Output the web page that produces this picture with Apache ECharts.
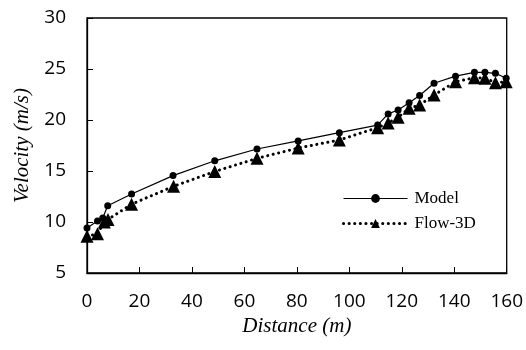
<!DOCTYPE html>
<html><head><meta charset="utf-8">
<script src="https://cdn.jsdelivr.net/npm/echarts@6/dist/echarts.min.js"></script>
<style>html,body{margin:0;padding:0;background:#fff}#c{width:526px;height:350px}</style>
</head><body><div id="c"></div>
<script>
var modelDist = [0, 4, 6, 7.9, 17, 32.8, 48.7, 64.8, 80.5, 96.2, 110.8, 114.8, 118.6, 122.8, 126.8, 132.3, 140.5, 147.7, 151.7, 155.7, 159.8];
var modelVel  = [9.4, 10.1, 10.4, 11.6, 12.75, 14.55, 16.0, 17.16, 17.95, 18.76, 19.5, 20.6, 20.98, 21.7, 22.4, 23.6, 24.3, 24.67, 24.67, 24.58, 24.1];
var flowDist = [0, 4, 6.6, 8, 17, 33, 48.7, 64.8, 80.5, 96.2, 110.8, 114.8, 118.6, 122.8, 126.8, 132.3, 140.5, 147.7, 151.7, 155.7, 159.8];
var flowVel  = [8.6, 8.85, 10.0, 10.25, 11.75, 13.5, 14.95, 16.24, 17.25, 18.04, 19.25, 19.7, 20.26, 21.15, 21.47, 22.45, 23.75, 24.15, 24.1, 23.66, 23.75];
var xTicks = [0, 20, 40, 60, 80, 100, 120, 140, 160];
var yTicks = [5, 10, 15, 20, 25, 30];

function pairs(xs, ys){ return xs.map(function(x,i){ return [x, ys[i]]; }); }
var chart = echarts.init(document.getElementById('c'));
var tickFont = {fontFamily: 'Open Sans', fontSize: 19, color: '#000'};
var dotted = {color: '#000', width: 3, type: [0.1, 5.5], cap: 'round'};
chart.setOption({
  animation: false,
  grid: {left: 87, right: 18, top: 18, bottom: 77, show: true, borderColor: '#000', borderWidth: 1.3},
  legend: {
    orient: 'vertical', left: 337, top: 185, itemWidth: 64, itemHeight: 11, itemGap: 8, itemStyle: {},
    textStyle: {fontFamily: 'Liberation Serif', fontSize: 17, color: '#000', padding: [0, 0, 0, 2]},
    data: [{name: 'Model', lineStyle: {color: '#000', width: 1.2}},
           {name: 'Flow-3D', lineStyle: dotted}]
  },
  xAxis: {
    type: 'value', min: xTicks[0], max: xTicks[xTicks.length-1], interval: 20,
    name: 'Distance (m)', nameLocation: 'middle', nameGap: 37,
    nameTextStyle: {fontFamily: 'Liberation Serif', fontStyle: 'italic', fontSize: 21, color: '#000'},
    axisLine: {lineStyle: {color: '#000', width: 1.3}},
    axisTick: {inside: true, length: 6, lineStyle: {color: '#000', width: 1}},
    axisLabel: Object.assign({margin: 19}, tickFont),
    splitLine: {show: false}
  },
  yAxis: {
    type: 'value', min: yTicks[0], max: yTicks[yTicks.length-1], interval: 5,
    name: 'Velocity (m/s)', nameLocation: 'middle', nameGap: 50,
    nameTextStyle: {fontFamily: 'Liberation Serif', fontStyle: 'italic', fontSize: 21, color: '#000'},
    axisLine: {lineStyle: {color: '#000', width: 1.3}},
    axisTick: {inside: true, length: 6, lineStyle: {color: '#000', width: 1}},
    axisLabel: Object.assign({margin: 21}, tickFont),
    splitLine: {show: false}
  },
  series: [
    {name: 'Model', type: 'line', data: pairs(modelDist, modelVel), symbol: 'circle', symbolSize: 7,
     itemStyle: {color: '#000'}, lineStyle: {color: '#000', width: 1.2}, z: 3},
    {name: 'Flow-3D', type: 'line', data: pairs(flowDist, flowVel), symbol: 'triangle', symbolSize: 13,
     itemStyle: {color: '#000'}, lineStyle: dotted, z: 2}
  ]
});
</script></body></html>
